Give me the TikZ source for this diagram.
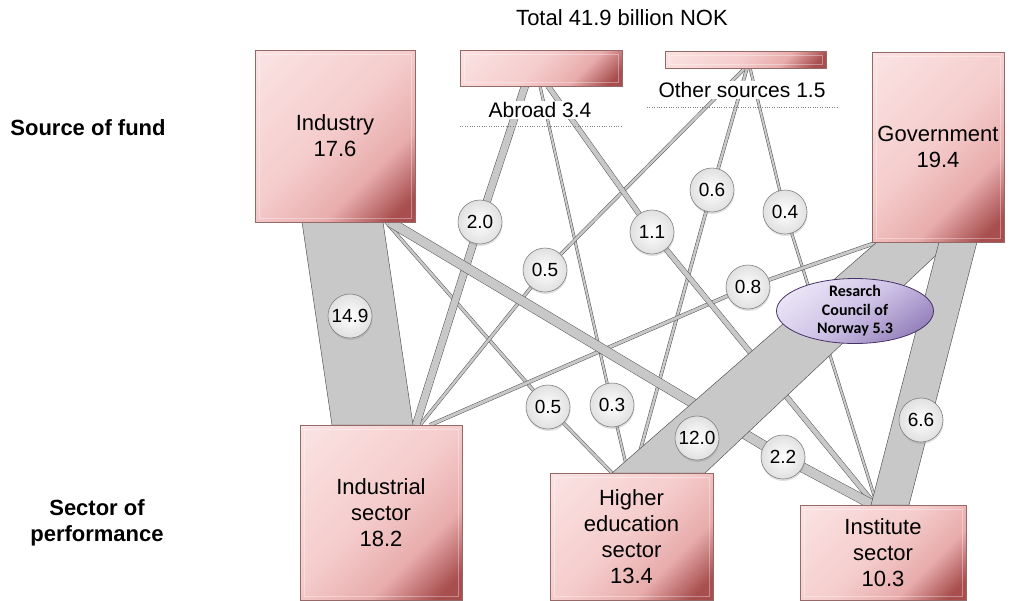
\documentclass[tikz,border=0pt]{standalone}
\usepackage{fontspec}
\setmainfont{Liberation Sans}
\newfontfamily\rcnfont{Carlito}
\usetikzlibrary{shapes.geometric, backgrounds, calc, shadows}

\definecolor{BoxLight}{RGB}{251,228,228}
\definecolor{BoxPale}{RGB}{245,204,204}
\definecolor{BoxMid}{RGB}{232,172,172}
\definecolor{BoxDark}{RGB}{168,78,78}
\definecolor{BoxEdge}{RGB}{150,105,105}
\definecolor{FlowGray}{RGB}{200,200,200}
\definecolor{FlowEdge}{RGB}{85,85,85}
\definecolor{RcnLight}{RGB}{234,228,246}
\definecolor{RcnMid}{RGB}{206,194,230}
\definecolor{RcnDark}{RGB}{150,130,188}
\definecolor{RcnEdge}{RGB}{70,50,100}

% pink boxes: pale in the upper left, dark red in the lower right corner
\pgfdeclareverticalshading{boxshade}{100bp}{%
  color(0bp)=(BoxDark); color(20bp)=(BoxDark); color(34bp)=(BoxMid);
  color(52bp)=(BoxPale); color(86bp)=(BoxLight); color(100bp)=(BoxLight)}

\tikzset{
  fundbox/.style 2 args={draw=BoxEdge, line width=0.6pt, shading=boxshade, shading angle=45,
    minimum width=#1, minimum height=#2, inner sep=0pt, align=center,
    font=\fontsize{22}{26}\selectfont,
    path picture={\draw[white, opacity=0.35, line width=1pt]
      ($(path picture bounding box.north west)+(4,-4)$) rectangle
      ($(path picture bounding box.south east)+(-4,4)$);}},
  flowlab/.style={circle, draw=black!50, line width=0.6pt, inner color=white, outer color=black!12,
    minimum size=44pt, inner sep=0pt, font=\fontsize{19}{21}\selectfont,
    drop shadow={opacity=0.25, shadow xshift=0.5pt, shadow yshift=-2pt}},
  flow/.style={draw=FlowEdge, line width=0.5pt, double=FlowGray, double distance=#1, line join=round},
  band/.style={fill=FlowGray, draw=FlowEdge, line width=0.5pt, line join=round},
  srclabel/.style={fill=white, inner sep=1pt, font=\fontsize{21}{24}\selectfont},
  sidelabel/.style={font=\bfseries\fontsize{22}{26}\selectfont, align=center},
  rcn/.style={ellipse, minimum width=157pt, minimum height=65pt, inner xsep=0pt, inner ysep=-6pt,
    draw=RcnEdge, line width=0.8pt, top color=RcnLight, bottom color=RcnDark, middle color=RcnMid,
    shading angle=35, align=center, font=\rcnfont\bfseries\fontsize{16}{18.5}\selectfont}
}

\begin{document}
\begin{tikzpicture}[x=1pt, y=1pt]
\useasboundingbox (0,0) rectangle (1019,-600);

\node[font=\fontsize{22}{26}\selectfont] (total) at (622,-18) {Total 41.9 billion NOK};
\node[sidelabel] (srcfund) at (88,-128) {Source of fund};
\node[sidelabel] (perf) at (97,-523) {Sector of\\performance};

% sources of funds
\node[fundbox={160}{172}] (ind) at (335,-136) {Industry\\17.6};
\node[fundbox={162}{36}] (abr) at (541,-68) {};
\node[fundbox={161}{17}] (oth) at (745.5,-59.5) {};
\node[fundbox={132}{190}] (gov) at (938,-147) {Government\\19.4};
\node[srclabel] (abrlab) at (540,-110) {Abroad 3.4};
\node[srclabel] (othlab) at (742,-90) {Other sources 1.5};
\coordinate (abr-ul-w) at (460,-126);
\coordinate (abr-ul-e) at (621,-126);
\coordinate (oth-ul-w) at (647,-107);
\coordinate (oth-ul-e) at (839,-107);
\draw[black!50, dotted] (abr-ul-w) -- (abr-ul-e);
\draw[black!50, dotted] (oth-ul-w) -- (oth-ul-e);

% sectors of performance
\node[fundbox={162}{175}] (isec) at (381,-512.5) {Industrial\\sector\\18.2};
\node[fundbox={163}{127}] (hed) at (631.5,-536.5) {Higher\\education\\sector\\13.4};
\node[fundbox={166}{95}] (ins) at (883,-552.5) {Institute\\sector\\10.3};

\node[rcn] (rcn) at (855,-311) {Resarch\\Council of\\Norway 5.3};

% where the flows leave and enter the boxes
\coordinate (ind-f1) at (302,-222);
\coordinate (ind-f2) at (383,-222);
\coordinate (ind-a) at (390,-222);
\coordinate (ind-b) at (386,-222);
\coordinate (abr-a) at (525,-86);
\coordinate (abr-b) at (540,-86);
\coordinate (abr-c) at (548,-86);
\coordinate (oth-a) at (745,-68);
\coordinate (oth-b) at (747,-68);
\coordinate (oth-c) at (750,-68);
\coordinate (gov-a) at (878,-242);
\coordinate (gov-f1) at (877,-242);
\coordinate (gov-f2) at (950,-242);
\coordinate (gov-f3) at (939,-242);
\coordinate (gov-f4) at (977,-242);
\coordinate (isec-f1) at (332,-425);
\coordinate (isec-f2) at (413,-425);
\coordinate (isec-a) at (416,-425);
\coordinate (isec-b) at (420,-425);
\coordinate (isec-c) at (430,-425);
\coordinate (hed-a) at (612,-473);
\coordinate (hed-b) at (628,-473);
\coordinate (hed-c) at (634,-473);
\coordinate (hed-f1) at (612,-473);
\coordinate (hed-f2) at (705,-473);
\coordinate (ins-a) at (873,-505);
\coordinate (ins-b) at (875,-505);
\coordinate (ins-c) at (877,-505);
\coordinate (ins-f1) at (871,-505);
\coordinate (ins-f2) at (909,-505);

% amounts
\node[flowlab] (l149) at (350,-316) {14.9};
\node[flowlab] (l20) at (480,-222) {2.0};
\node[flowlab] (l05a) at (545,-270) {0.5};
\node[flowlab] (l11) at (652,-232) {1.1};
\node[flowlab] (l06) at (712,-190) {0.6};
\node[flowlab] (l04) at (785,-212) {0.4};
\node[flowlab] (l08) at (748,-287) {0.8};
\node[flowlab] (l05b) at (548,-407) {0.5};
\node[flowlab] (l03) at (612,-405) {0.3};
\node[flowlab] (l120) at (697,-438) {12.0};
\node[flowlab] (l22) at (783,-457) {2.2};
\node[flowlab] (l66) at (921,-420) {6.6};

\begin{scope}[on background layer]
  % thin and medium flows
  \draw[flow=2] (abr-b) -- (l03.center) -- (hed-b);
  \draw[flow=2] (oth-c) -- (l04.center) -- (ins-c);
  \draw[flow=2.5] (ind-b) -- (l05b.center) -- (hed-a);
  \draw[flow=2.5] (oth-a) -- (l05a.center) -- (isec-b);
  \draw[flow=2.5] (oth-b) -- (l06.center) -- (hed-c);
  \draw[flow=3] (gov-a) -- (l08.center) -- (isec-c);
  \draw[flow=4.5] (abr-c) -- (l11.center) -- (ins-b);
  \draw[flow=7] (abr-a) -- (l20.center) -- (isec-a);
  \draw[flow=9] (ind-a) -- (l22.center) -- (ins-a);
  % wide bands
  \draw[band] (ind-f1) -- (ind-f2) -- (isec-f2) -- (isec-f1) -- cycle;
  \draw[band] (gov-f1) -- (gov-f2) -- (hed-f2) -- (hed-f1) -- cycle;
  \draw[band] (gov-f3) -- (gov-f4) -- (ins-f2) -- (ins-f1) -- cycle;
\end{scope}

\end{tikzpicture}
\end{document}
